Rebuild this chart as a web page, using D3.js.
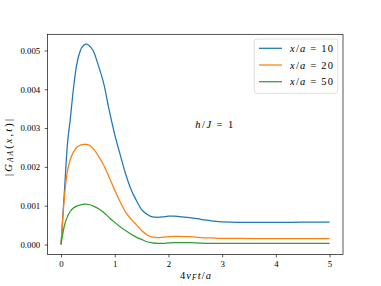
<!DOCTYPE html>
<html>
<head>
<meta charset="utf-8">
<script src="https://cdn.jsdelivr.net/npm/d3@7"></script>
<style>
  body { margin: 0; background: #fff; }
  text { font-family: "Liberation Serif", serif; fill: #000; }
</style>
</head>
<body>
<div id="chart"></div>
<script>
const width = 381;
const height = 286;

// time axis (4 v_F t / a)
const tValues = [0, 0.06, 0.12, 0.17, 0.23, 0.29, 0.36, 0.43, 0.47, 0.52, 0.6, 0.7, 0.8, 0.9,
  1.0, 1.1, 1.2, 1.3, 1.4, 1.5, 1.6, 1.7, 1.8, 1.9, 2.0, 2.1, 2.2, 2.4, 2.6, 2.8, 3.0,
  3.3, 3.6, 4.0, 4.5, 5.0];

const g10 = [0, 0.0013, 0.0026, 0.0032, 0.0040, 0.00462, 0.00500, 0.00514, 0.00516, 0.00513,
  0.00499, 0.00459, 0.00412, 0.00344, 0.00283, 0.00232, 0.00183, 0.00143, 0.00114, 0.00090,
  0.00078, 0.00071, 0.00070, 0.00071, 0.00073, 0.00073, 0.00072, 0.00069, 0.00065, 0.00061,
  0.00058, 0.00057, 0.000572, 0.000572, 0.000574, 0.000576];

const g20 = [0, 0.00118, 0.0019, 0.00218, 0.00238, 0.0025, 0.00256, 0.00258, 0.00258, 0.00256,
  0.00247, 0.00227, 0.00203, 0.00172, 0.00140, 0.00110, 0.00084, 0.00066, 0.00051, 0.00036,
  0.00025, 0.00019, 0.00018, 0.00019, 0.00020, 0.00021, 0.00021, 0.00020, 0.00018, 0.00017,
  0.00016, 0.000155, 0.000154, 0.000154, 0.000154, 0.000154];

const g50 = [0, 0.00047, 0.00072, 0.00085, 0.00094, 0.00099, 0.00102, 0.00104, 0.00104, 0.00103,
  0.00099, 0.00092, 0.00082, 0.00069, 0.00057, 0.00046, 0.00036, 0.00027, 0.00019, 0.00013,
  0.00007, 0.00004, 0.000027, 0.00003, 0.00004, 0.00005, 0.00005, 0.000045, 0.000035, 0.00003,
  0.00003, 0.00003, 0.00003, 0.00003, 0.00003, 0.00003];

const seriesLabels = ["10", "20", "50"];
const seriesValues = [g10, g20, g50];
const colors = ["#1f77b4", "#ff7f0e", "#2ca02c"];

const xTicks = [0, 1, 2, 3, 4, 5];
const yTicks = [0, 0.001, 0.002, 0.003, 0.004, 0.005];

const margin = { left: 47.6, right: 38, top: 34.3, bottom: 31.5 };
const labelSize = 10.5;

const x = d3.scaleLinear().domain([-0.25, 5.25]).range([margin.left, width - margin.right]);
const y = d3.scaleLinear().domain([-0.000258, 0.005416]).range([height - margin.bottom, margin.top]);

const svg = d3.select("#chart").append("svg")
  .attr("width", width)
  .attr("height", height);

// curves
const line = d3.line()
  .x((d) => x(d[0]))
  .y((d) => y(d[1]))
  .curve(d3.curveMonotoneX);

seriesValues.forEach((vals, i) => {
  svg.append("path")
    .datum(tValues.map((t, j) => [t, vals[j]]))
    .attr("fill", "none")
    .attr("stroke", colors[i])
    .attr("stroke-width", 1.25)
    .attr("d", line);
});

// axes
const xAxis = svg.append("g")
  .attr("transform", `translate(0,${height - margin.bottom})`)
  .call(d3.axisBottom(x).tickValues(xTicks).tickSize(2.9).tickPadding(3.2).tickFormat(d3.format("d")));

const yAxis = svg.append("g")
  .attr("transform", `translate(${margin.left},0)`)
  .call(d3.axisLeft(y).tickValues(yTicks).tickSize(2.9).tickPadding(4.5).tickFormat(d3.format(".3f")));

[xAxis, yAxis].forEach((ax) => {
  ax.select(".domain").remove();
  ax.selectAll(".tick line").attr("stroke", "#000").attr("stroke-width", 0.66);
  ax.selectAll(".tick text")
    .attr("fill", "#000")
    .style("font-family", "Liberation Serif, serif")
    .attr("font-size", 8.8);
});

// frame
svg.append("rect")
  .attr("x", margin.left)
  .attr("y", margin.top)
  .attr("width", width - margin.left - margin.right)
  .attr("height", height - margin.top - margin.bottom)
  .attr("fill", "none")
  .attr("stroke", "#000")
  .attr("stroke-width", 0.66);

// axis labels
const xl = svg.append("text")
  .attr("x", 180)
  .attr("y", 278.5)
  .attr("font-size", labelSize)
  .attr("textLength", 31)
  .attr("lengthAdjust", "spacing");
xl.append("tspan").text("4");
xl.append("tspan").attr("font-style", "italic").text("v");
xl.append("tspan").attr("font-style", "italic").attr("font-size", 7.4).attr("dy", 1.8).text("F");
xl.append("tspan").attr("font-style", "italic").attr("dy", -1.8).text("t");
xl.append("tspan").text("/");
xl.append("tspan").attr("font-style", "italic").text("a");

const yl = svg.append("text")
  .attr("transform", `translate(11.5,176) rotate(-90)`)
  .attr("font-size", labelSize)
  .attr("textLength", 57)
  .attr("lengthAdjust", "spacing");
yl.append("tspan").text("|");
yl.append("tspan").attr("font-style", "italic").text("G");
yl.append("tspan").attr("font-style", "italic").attr("font-size", 7.4).attr("dy", 1.8).text("AA");
yl.append("tspan").attr("dy", -1.8).text("(");
yl.append("tspan").attr("font-style", "italic").text("x");
yl.append("tspan").text(",");
yl.append("tspan").attr("font-style", "italic").text("t");
yl.append("tspan").text(")|");

// annotation
const ann = svg.append("text")
  .attr("x", x(2.5))
  .attr("y", y(0.003))
  .attr("font-size", labelSize)
  .attr("textLength", 38)
  .attr("lengthAdjust", "spacing");
ann.append("tspan").attr("font-style", "italic").text("h");
ann.append("tspan").text("/");
ann.append("tspan").attr("font-style", "italic").text("J");
ann.append("tspan").text(" = 1");

// legend
const legend = svg.append("g");
legend.append("rect")
  .attr("x", 254.3)
  .attr("y", 39)
  .attr("width", 83.4)
  .attr("height", 54.3)
  .attr("rx", 2.5)
  .attr("fill", "#fff")
  .attr("fill-opacity", 0.8)
  .attr("stroke", "#d6d6d6")
  .attr("stroke-width", 0.8);

seriesLabels.forEach((lab, i) => {
  const cy = 48.3 + i * 16.7;
  legend.append("line")
    .attr("x1", 259)
    .attr("x2", 282)
    .attr("y1", cy)
    .attr("y2", cy)
    .attr("stroke", colors[i])
    .attr("stroke-width", 1.25);
  const t = legend.append("text")
    .attr("x", 290)
    .attr("y", cy + 3.5)
    .attr("font-size", labelSize)
    .attr("textLength", 43)
    .attr("lengthAdjust", "spacing");
  t.append("tspan").attr("font-style", "italic").text("x");
  t.append("tspan").text("/");
  t.append("tspan").attr("font-style", "italic").text("a");
  t.append("tspan").text(" = " + lab);
});
</script>
</body>
</html>
